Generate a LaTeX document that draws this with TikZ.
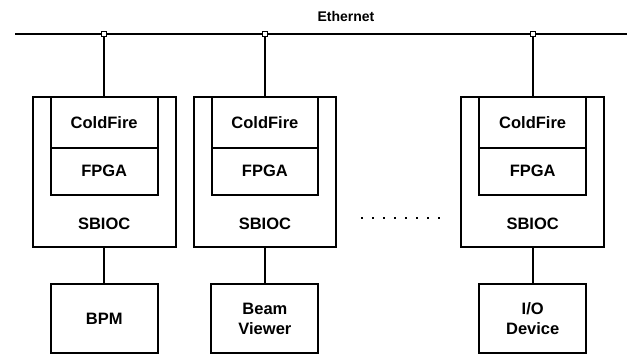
\documentclass[tikz,border=0pt]{standalone}
\usepackage{fontspec}
\setmainfont{Liberation Sans}
\begin{document}
\begin{tikzpicture}[x=1pt,y=-1pt,
  line width=2pt,
  box/.style={draw, rectangle, inner sep=0pt, line width=2pt},
  lbl/.style={font=\fontsize{16.5}{20}\selectfont\bfseries, align=center, inner sep=0pt},
  tap/.style={draw, fill=white, rectangle, line width=1pt, minimum width=5pt, minimum height=5pt, inner sep=0pt},
  wire/.style={draw, line width=2pt}
]
\useasboundingbox (0,0) rectangle (627,355);

% Ethernet
\coordinate (ethL) at (15,34);
\coordinate (ethR) at (627,34);
\draw[wire] (ethL) -- (ethR);
\node[font=\fontsize{14}{16}\selectfont\bfseries, inner sep=0pt] (eth) at (346,16) {Ethernet};

% three units
\foreach \i/\cx/\ow/\iw in {1/104.2/143/106.6, 2/264.9/142.3/106.6, 3/532.7/142.7/107.3}{
  \node[box, minimum width=\ow pt, minimum height=150pt] (s\i) at (\cx,172.3) {};
  \node[box, minimum width=\iw pt, minimum height=50.4pt, lbl] (cf\i) at (\cx,122.5) {ColdFire};
  \node[box, minimum width=\iw pt, minimum height=47pt, lbl] (fp\i) at (\cx,171.2) {FPGA};
  \node[lbl] (sb\i) at (\cx,224) {SBIOC};
  \node[tap] (t\i) at (\cx,34) {};
}

\node[box, minimum width=107pt, minimum height=69pt, lbl] (d1) at (104.2,318.5) {BPM};
\node[box, minimum width=107pt, minimum height=69pt, lbl] (d2) at (264.9,318.5) {Beam\\Viewer};
\node[box, minimum width=107pt, minimum height=69pt, lbl] (d3) at (532.7,318.5) {I/O\\Device};

\foreach \i in {1,2,3}{
  \draw[wire] (t\i.south) -- (s\i.north);
  \draw[wire] (s\i.south) -- (d\i.north);
}

% ellipsis
\coordinate (dotA) at (361,218);
\coordinate (dotB) at (442,218);
\draw[line width=2.2pt, dash pattern=on 2.2pt off 8.8pt] (dotA) -- (dotB);
\end{tikzpicture}
\end{document}
